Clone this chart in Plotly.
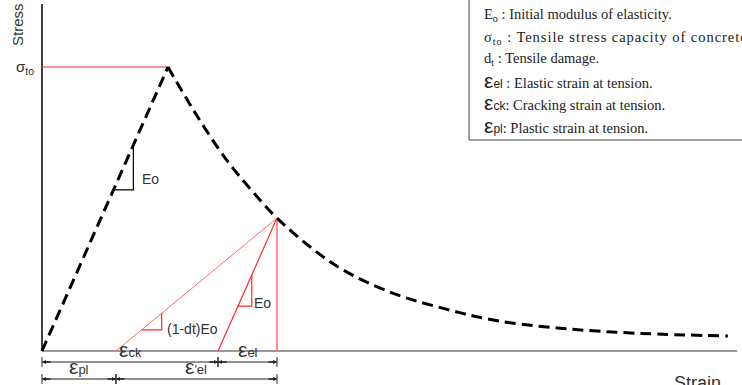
import plotly.graph_objects as go

# Tension softening curve of concrete (normalised: peak strain = 1, sigma_to = 1)
eps_peak = 1.0
sigma_to = 1.0
post_strain = [1.0, 1.201, 1.466, 1.730, 1.865, 2.127, 2.391, 2.788, 3.185, 3.582, 4.111, 4.746, 5.444]
post_stress = [1.0, 0.849, 0.672, 0.532, 0.468, 0.367, 0.285, 0.203, 0.150, 0.109, 0.080, 0.062, 0.053]

# Unloading point on the softening branch
eps_t = 1.865
sig_t = 0.468
E0 = sigma_to / eps_peak
eps_pl = 0.587
dt = 1 - (sig_t / (eps_t - eps_pl)) / E0
eps_el0 = sig_t / E0          # elastic strain (undamaged unloading)
eps_ck = eps_t - eps_el0      # cracking strain

legend_lines = [
    "E<sub>o</sub> : Initial modulus of elasticity.",
    "<span style='letter-spacing:0.95px'>σ<sub>to</sub> : Tensile stress capacity of concrete</span>",
    "d<sub>t</sub> : Tensile damage.",
    "<span style='font-family:Liberation Sans;font-size:21px'>ε</span>"
    "<span style='font-family:Liberation Sans;font-size:12px'>el</span> : Elastic strain at tension.",
    "<span style='font-family:Liberation Sans;font-size:21px'>ε</span>"
    "<span style='font-family:Liberation Sans;font-size:12px'>ck</span>: Cracking strain at tension.",
    "<span style='font-family:Liberation Sans;font-size:21px'>ε</span>"
    "<span style='font-family:Liberation Sans;font-size:12px'>pl</span>: Plastic strain at tension.",
]

# axis ranges (units of the normalised strain / stress)
x_rng = [-42 / 126, 700 / 126]
y_rng = [-34 / 284, 351 / 284]

SANS = "Liberation Sans"
SERIF = "Liberation Serif"
TXT = "#333333"
RED = "#ff2a2a"
LRED = "#ff6b6b"

fig = go.Figure()

def seg(x, y, color, width=1, dash=None, shape="linear"):
    fig.add_trace(go.Scatter(
        x=x, y=y, mode="lines", hoverinfo="skip", showlegend=False,
        line=dict(color=color, width=width, dash=dash, shape=shape),
    ))

# axes
seg([0, 0], [0, 1.222], "#000000", 1.5)
seg([0, 5.516], [0, 0], "#9a9a9a", 2)

# sigma_to reference line
seg([0, eps_peak], [sigma_to, sigma_to], RED, 1)

# unloading paths
seg([eps_pl, eps_t], [0, sig_t], LRED, 1)
seg([eps_ck, eps_t], [0, sig_t], RED, 1.2)
seg([eps_t, eps_t], [0, sig_t], LRED, 1.5)

# slope triangles
def slope_tri(x0, x1, slope, x_int, color):
    y0 = slope * (x0 - x_int)
    y1 = slope * (x1 - x_int)
    seg([x0, x1, x1], [y0, y0, y1], color, 1.2)
    return x1, (y0 + y1) / 2

tx1, ty1 = slope_tri(0.567, 0.725, E0, 0.0, "#000000")
tx2, ty2 = slope_tri(0.791, 0.950, E0 * (1 - dt), eps_pl, RED)
tx3, ty3 = slope_tri(1.555, 1.665, E0, eps_ck, RED)

# tension stress-strain curve (dashed)
DASH = "11px,6px"
seg([0, eps_peak], [0, sigma_to], "#000000", 3, DASH)
seg(post_strain, post_stress, "#000000", 3, DASH, "spline")

annotations = []

def label(x, y, text, size=14, xanchor="left", yanchor="middle", family=SANS, color=TXT, angle=0):
    annotations.append(dict(
        x=x, y=y, xref="x", yref="y", text=text, showarrow=False,
        xanchor=xanchor, yanchor=yanchor, textangle=angle,
        font=dict(family=family, size=size, color=color),
    ))

label(tx1 + 0.05, ty1 - 0.04, "Eo", 14)
label(tx2 + 0.03, ty2 - 0.025, "(1-dt)Eo", 14)
label(tx3 + 0.005, ty3 - 0.045, "Eo", 14)
label(-0.05, sigma_to, "σ<sub>to</sub>", 15, xanchor="right")
label(-0.20, 1.151, "Stress", 15, xanchor="center", angle=-90)
label(5.206, -0.072, "Strain", 18, xanchor="center", yanchor="top")

# dimension lines below the strain axis
def dim(x0, x1, y, text):
    seg([x0, x1], [y, y], "#222222", 1)
    fig.add_trace(go.Scatter(
        x=[x0, x1], y=[y, y], mode="markers", hoverinfo="skip", showlegend=False,
        marker=dict(symbol="line-ns", size=7, line=dict(color="#222222", width=1)),
    ))
    for a, b in ((x0, x1), (x1, x0)):
        annotations.append(dict(
            x=a, y=y, ax=a + (0.08 if b > a else -0.08), ay=y,
            xref="x", yref="y", axref="x", ayref="y", text="",
            showarrow=True, arrowhead=2, arrowsize=0.5, arrowwidth=1.6, arrowcolor="#222222",
            standoff=0, startstandoff=0,
        ))
    annotations.append(dict(
        x=(x0 + x1) / 2, y=y - 0.003, xref="x", yref="y", text=text, showarrow=False,
        xanchor="center", yanchor="bottom", font=dict(family=SANS, size=12, color=TXT),
    ))

def eps_text(sub):
    return ("<span style='font-size:21px'>ε</span>"
            "<span style='font-size:13px'>" + sub + "</span>")

y_row1 = -11 / 284
y_row2 = -28 / 284
dim(0, eps_ck, y_row1, eps_text("ck"))
dim(eps_ck, eps_t, y_row1, eps_text("el"))
dim(0, eps_pl, y_row2, eps_text("pl"))
dim(eps_pl, eps_t, y_row2, eps_text("'el"))

# notation box
box_y = [15, 38, 59, 81, 103, 125]
for yy, txt in zip(box_y, legend_lines):
    annotations.append(dict(
        x=482 / 742, y=1 - yy / 385, xref="paper", yref="paper", text=txt,
        showarrow=False, xanchor="left", yanchor="middle",
        font=dict(family=SERIF, size=14.5, color="#222222"),
    ))

fig.add_shape(type="rect", xref="paper", yref="paper",
              x0=469 / 742, x1=1.02, y0=1 - 140 / 385, y1=1.02,
              line=dict(color="#444444", width=1), fillcolor="rgba(0,0,0,0)")

fig.update_layout(
    width=742, height=385,
    margin=dict(l=0, r=0, t=0, b=0),
    paper_bgcolor="white", plot_bgcolor="white",
    xaxis=dict(range=x_rng, visible=False, fixedrange=True),
    yaxis=dict(range=y_rng, visible=False, fixedrange=True),
    annotations=annotations,
    showlegend=False,
)

fig.write_html("out.html")
